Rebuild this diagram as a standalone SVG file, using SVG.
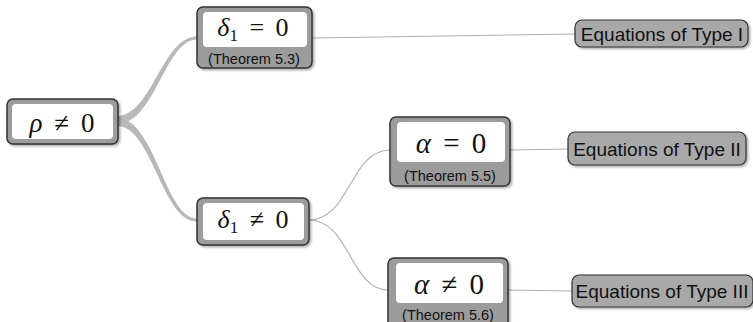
<svg xmlns="http://www.w3.org/2000/svg" width="753" height="322" viewBox="0 0 753 322">
<defs>
<filter id="sh" x="-10%" y="-10%" width="130%" height="140%">
<feDropShadow dx="1.5" dy="1.5" stdDeviation="1" flood-color="#000" flood-opacity="0.35"/>
</filter>
<style>
.outer{fill:#9c9c9c;stroke:#333;stroke-width:1.5;filter:url(#sh)}
.inner{fill:#fff}
.leaf{fill:#a9a9a9;stroke:#333;stroke-width:1.2;filter:url(#sh)}
.math{font-family:"Liberation Serif","DejaVu Serif",serif;fill:#111;text-anchor:middle;word-spacing:5px}
.it{font-style:italic}
.thm{font-family:"Liberation Sans",Arial,sans-serif;font-size:14.5px;fill:#111;text-anchor:middle}
.eq{font-family:"Liberation Sans",Arial,sans-serif;font-size:19px;fill:#111;text-anchor:middle}
.thick{fill:#b8b8b8;stroke:none}
.thin{fill:none;stroke:#b0b0b0;stroke-width:1.2}
</style>
</defs>
<g id="connectors">
<path class="thick" d="M117,116 C152,116 162,36.5 197,36.5 L197,39.5 C165,39.5 155,124 117,124 Z"/>
<path class="thick" d="M117,118 C155,118 165,218.5 197,218.5 L197,221.5 C162,221.5 152,126 117,126 Z"/>
<path class="thin" d="M312,38 L575,34"/>
<path class="thin" d="M309,220 C350,220 350,150 390,150"/>
<path class="thin" d="M309,220 C350,220 350,290 388,290"/>
<path class="thin" d="M510,150 L568,149"/>
<path class="thin" d="M508,290 L572,291"/>
</g>
<g id="root">
<rect class="outer" x="7" y="99" width="111" height="45" rx="6"/>
<rect class="inner" x="12" y="104" width="101" height="35" rx="4"/>
<text class="math" x="62" y="132" font-size="27"><tspan class="it">ρ</tspan> ≠ 0</text>
</g>
<g id="delta-eq">
<rect class="outer" x="197" y="7" width="115" height="61" rx="6"/>
<rect class="inner" x="203" y="12" width="104" height="35" rx="4"/>
<text class="math" x="253" y="36" font-size="26"><tspan class="it">δ</tspan><tspan font-size="17" dy="5">1</tspan><tspan dy="-5"> = 0</tspan></text>
<text class="thm" x="254" y="64">(Theorem 5.3)</text>
</g>
<g id="delta-neq">
<rect class="outer" x="197" y="198" width="112" height="47" rx="6"/>
<rect class="inner" x="203" y="203" width="101" height="37" rx="4"/>
<text class="math" x="253" y="228" font-size="26"><tspan class="it">δ</tspan><tspan font-size="17" dy="5">1</tspan><tspan dy="-5"> ≠ 0</tspan></text>
</g>
<g id="alpha-eq">
<rect class="outer" x="390" y="117" width="120" height="69" rx="6"/>
<rect class="inner" x="397" y="122" width="108" height="40" rx="4"/>
<text class="math" x="451" y="153" font-size="29"><tspan class="it">α</tspan> = 0</text>
<text class="thm" x="450" y="181">(Theorem 5.5)</text>
</g>
<g id="alpha-neq">
<rect class="outer" x="388" y="258" width="120" height="70" rx="6"/>
<rect class="inner" x="396" y="263" width="107" height="40" rx="4"/>
<text class="math" x="449" y="294" font-size="29"><tspan class="it">α</tspan> ≠ 0</text>
<text class="thm" x="448" y="320">(Theorem 5.6)</text>
</g>
<g id="type1">
<rect class="leaf" x="575" y="20" width="173" height="27" rx="7"/>
<text class="eq" x="662" y="41">Equations of Type I</text>
</g>
<g id="type2">
<rect class="leaf" x="568" y="132" width="178" height="33" rx="7"/>
<text class="eq" x="657" y="156">Equations of Type II</text>
</g>
<g id="type3">
<rect class="leaf" x="572" y="275" width="181" height="32" rx="7"/>
<text class="eq" x="662" y="298">Equations of Type III</text>
</g>
</svg>
